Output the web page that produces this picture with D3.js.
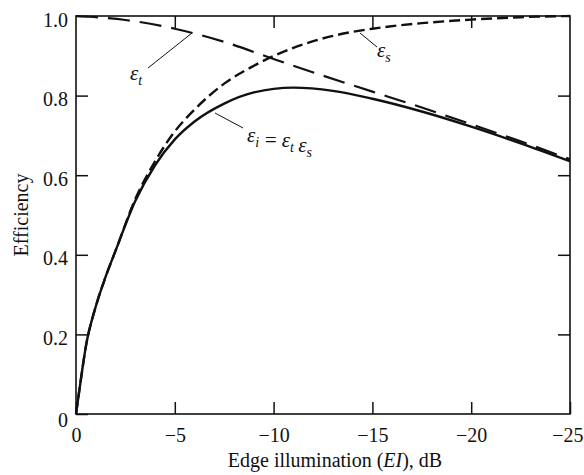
<!DOCTYPE html>
<html lang="en">
<head>
<meta charset="UTF-8">
<title>Efficiency vs edge illumination</title>
<script src="https://d3js.org/d3.v7.min.js"></script>
<style>
    html, body { margin: 0; background: #fff; }
    text { font-family: "Liberation Serif", "DejaVu Serif", serif; fill: #111; }
</style>
</head>
<body>
<div id="chart"></div>
<script>
    // values (edge illumination in dB)
    var eiTaper = [0, -2.5, -5, -7.5, -10, -12.5, -15, -17.5, -20, -22.5, -25];
    var taperEff = [1.0, 0.99, 0.968, 0.935, 0.892, 0.85, 0.81, 0.77, 0.728, 0.685, 0.64];

    var eiSpill = [0, -0.25, -0.5, -1, -1.5, -2, -3, -4, -5, -6, -7.5, -9, -11, -13, -15, -17.5, -20, -22.5, -25];
    var spillEff = [0, 0.088, 0.17, 0.27, 0.345, 0.41, 0.54, 0.635, 0.71, 0.765, 0.83, 0.875, 0.92, 0.95, 0.968, 0.982, 0.991, 0.997, 1.0];
    var illumEff = [0, 0.088, 0.17, 0.27, 0.345, 0.41, 0.535, 0.625, 0.69, 0.735, 0.78, 0.808, 0.82, 0.812, 0.792, 0.76, 0.722, 0.68, 0.635];

    var xTicks = [0, -5, -10, -15, -20, -25];
    var yTicks = [0, 0.2, 0.4, 0.6, 0.8, 1.0];

    var width = 584, height = 475;
    var margin = {top: 16, right: 14, bottom: 61, left: 76};
    var w = width - margin.left - margin.right;
    var h = height - margin.top - margin.bottom;
    var serif = '"Liberation Serif", "DejaVu Serif", serif';

    var svg = d3.select('#chart').append('svg')
        .attr('width', width)
        .attr('height', height);
    var g = svg.append('g')
        .attr('transform', 'translate(' + margin.left + ',' + margin.top + ')');

    var x = d3.scaleLinear().domain([0, -25]).range([0, w]);
    var y = d3.scaleLinear().domain([0, 1]).range([h, 0]);

    var minus = function (d) { return d < 0 ? '\u2212' + Math.abs(d) : String(d); };

    // axes with inward ticks
    var xAxis = d3.axisBottom(x).tickValues(xTicks).tickSizeInner(-12).tickSizeOuter(0)
        .tickPadding(14).tickFormat(minus);
    var yAxis = d3.axisLeft(y).tickValues(yTicks).tickSizeInner(-12).tickSizeOuter(0)
        .tickPadding(8).tickFormat(function (d) { return d === 0 ? '0' : d3.format('.1f')(d); });

    var gx = g.append('g').attr('transform', 'translate(0,' + h + ')').call(xAxis);
    var gy = g.append('g').call(yAxis);
    var gt = g.append('g').call(d3.axisTop(x).tickValues(xTicks.slice(1, 5)).tickSizeInner(-12).tickSizeOuter(0).tickFormat(''));
    var gr = g.append('g').attr('transform', 'translate(' + w + ',0)')
        .call(d3.axisRight(y).tickValues(yTicks.slice(1, 5)).tickSizeInner(-12).tickSizeOuter(0).tickFormat(''));

    [gx, gy, gt, gr].forEach(function (a) {
        a.attr('font-family', serif).attr('font-size', 20);
        a.select('.domain').remove();
        a.selectAll('line').attr('stroke', '#111').attr('stroke-width', 1.5);
        a.selectAll('text').attr('fill', '#111');
    });
    gy.selectAll('text').attr('dy', '0.5em');
    gy.selectAll('.tick').filter(function (d) { return d === 0; }).select('text').attr('dy', '0.6em');
    // last label sits against the right edge
    gx.selectAll('.tick').filter(function (d) { return d === -25; }).select('text')
        .attr('text-anchor', 'end').attr('x', margin.right - 1);

    g.append('rect')
        .attr('width', w).attr('height', h)
        .attr('fill', 'none').attr('stroke', '#111').attr('stroke-width', 1.6);

    // curves
    var line = d3.line()
        .x(function (d) { return x(d[0]); })
        .y(function (d) { return y(d[1]); })
        .curve(d3.curveMonotoneX);

    g.append('path')
        .datum(d3.zip(eiTaper, taperEff))
        .attr('d', line).attr('fill', 'none')
        .attr('stroke', '#111').attr('stroke-width', 2.2)
        .attr('stroke-dasharray', '22,10');

    g.append('path')
        .datum(d3.zip(eiSpill, spillEff))
        .attr('d', line).attr('fill', 'none')
        .attr('stroke', '#111').attr('stroke-width', 2.4)
        .attr('stroke-dasharray', '11,5');

    g.append('path')
        .datum(d3.zip(eiSpill, illumEff))
        .attr('d', line).attr('fill', 'none')
        .attr('stroke', '#111').attr('stroke-width', 2.4);

    // curve labels with leader lines
    function eps(px, py, parts) {
        var t = g.append('text').attr('x', px).attr('y', py)
            .attr('font-size', 21).attr('font-style', 'italic');
        parts.forEach(function (p) {
            if (p.sub) {
                t.append('tspan').attr('font-size', 14).attr('dy', 5).text(p.sub);
                t.append('tspan').attr('dy', -5).text('');
            } else {
                t.append('tspan').text(p.t);
            }
        });
        return t;
    }
    function leader(x1, y1, x2, y2) {
        g.append('line')
            .attr('x1', x1).attr('y1', y1).attr('x2', x2).attr('y2', y2)
            .attr('stroke', '#111').attr('stroke-width', 1);
    }

    leader(148 - margin.left, 68 - margin.top, 192 - margin.left, 33 - margin.top);
    eps(130 - margin.left, 80 - margin.top, [{t: '\u03b5'}, {sub: 't'}]);

    leader(360 - margin.left, 33 - margin.top, 377 - margin.left, 47 - margin.top);
    eps(377 - margin.left, 57 - margin.top, [{t: '\u03b5'}, {sub: 's'}]);

    leader(215 - margin.left, 113 - margin.top, 243 - margin.left, 128 - margin.top);
    eps(247 - margin.left, 142 - margin.top, [
        {t: '\u03b5'}, {sub: 'i'}, {t: '\u2009=\u2009\u03b5'}, {sub: 't'}, {t: '\u2009\u03b5'}, {sub: 's'}
    ]);

    // axis titles
    var xt = svg.append('text')
        .attr('x', 335).attr('y', 467)
        .attr('text-anchor', 'middle').attr('font-size', 20);
    xt.append('tspan').text('Edge illumination (');
    xt.append('tspan').attr('font-style', 'italic').text('EI');
    xt.append('tspan').text('), dB');

    svg.append('text')
        .attr('transform', 'translate(28,215) rotate(-90)')
        .attr('text-anchor', 'middle').attr('font-size', 20)
        .text('Efficiency');
</script>
</body>
</html>
